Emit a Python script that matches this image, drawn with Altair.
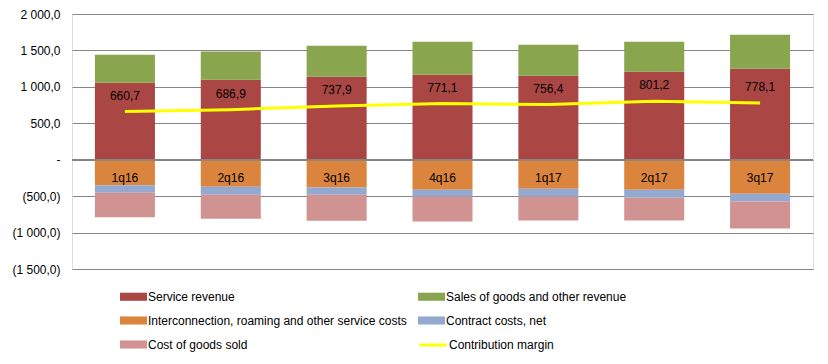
import altair as alt
import pandas as pd

quarters = ["1q16", "2q16", "3q16", "4q16", "1q17", "2q17", "3q17"]
service_revenue = [1057, 1098, 1140, 1167, 1153, 1208, 1249]
sales_goods = [384, 389, 425, 453, 426, 412, 467]
interconnection = [-352, -371, -380, -412, -398, -412, -467]
contract_costs = [-101, -110, -101, -96, -110, -110, -105]
cost_goods = [-338, -329, -356, -339, -325, -311, -371]
contribution_margin = [660.7, 686.9, 737.9, 771.1, 756.4, 801.2, 778.1]

bar_series = [
    "Service revenue",
    "Sales of goods and other revenue",
    "Interconnection, roaming and other service costs",
    "Contract costs, net",
    "Cost of goods sold",
]
bar_colors = ["#AA4643", "#89A54E", "#DB843D", "#93A9CF", "#D19392"]
line_series = ["Contribution margin"]
line_colors = ["#FFFF00"]
y_ticks = [-1500, -1000, -500, 0, 500, 1000, 1500, 2000]

rows = []
for i, q in enumerate(quarters):
    for k, vals in enumerate([service_revenue, sales_goods, interconnection, contract_costs, cost_goods]):
        rows.append({"quarter": q, "series": bar_series[k], "value": vals[i], "ord": k})
bars_df = pd.DataFrame(rows)

line_df = pd.DataFrame({
    "quarter": quarters,
    "series": line_series[0],
    "value": contribution_margin,
    "label": [f"{v:.1f}".replace(".", ",") for v in contribution_margin],
})

FONT = "Liberation Sans"

x_enc = alt.X("quarter:N", sort=quarters, axis=None,
              scale=alt.Scale(paddingInner=0.433, paddingOuter=0.2165))
y_scale = alt.Scale(domain=[-1500, 2000], nice=False, zero=False)

label_expr = (
    "datum.value == 0 ? '-\u2002\u2002' : (datum.value < 0 ? "
    "'(' + replace(replace(format(-datum.value, ',.1f'), ',', ' '), '.', ',') + ')' : "
    "replace(replace(format(datum.value, ',.1f'), ',', ' '), '.', ',') + '\u2008')"
)

bar_legend = alt.Legend(
    title=None, orient="none", legendX=48, legendY=269,
    direction="horizontal", columns=2, columnPadding=11, rowPadding=4,
    labelFont=FONT, labelFontSize=12, labelColor="#000000",
    labelOffset=1, labelLimit=400,
    symbolType="M-1,-0.3H1V0.3H-1Z", symbolSize=729, symbolStrokeWidth=0,
    symbolOpacity=1, padding=0,
)
line_legend = alt.Legend(
    title=None, orient="none", legendX=346, legendY=316,
    labelFont=FONT, labelFontSize=12, labelColor="#000000",
    labelOffset=1, labelLimit=400,
    symbolType="stroke", symbolSize=729, symbolStrokeWidth=3,
    symbolOpacity=1, padding=0,
)

y_axis = alt.Axis(values=y_ticks, tickCount=20, labelOverlap=False,
                  labelExpr=label_expr, grid=True, gridColor="#868686",
                  gridWidth=1, gridOpacity=1, domain=False, ticks=False,
                  labelPadding=12, labelFont=FONT, labelFontSize=12,
                  labelColor="#000000")

bars = alt.Chart(bars_df).mark_bar().encode(
    x=x_enc,
    y=alt.Y("value:Q", scale=y_scale, stack="zero", title=None, axis=y_axis),
    fill=alt.Fill("series:N", scale=alt.Scale(domain=bar_series, range=bar_colors),
                  legend=bar_legend),
    order=alt.Order("ord:Q"),
)

zero_rule = alt.Chart(line_df).mark_rule(color="#868686", strokeWidth=1).encode(
    y=alt.datum(0),
)

quarter_text = alt.Chart(line_df).mark_text(
    font=FONT, fontSize=12, color="#000000", dy=18
).encode(
    x=alt.X("quarter:N", sort=quarters),
    y=alt.datum(0),
    text="quarter:N",
)

line = alt.Chart(line_df).mark_line(strokeWidth=3).encode(
    x=alt.X("quarter:N", sort=quarters),
    y=alt.Y("value:Q"),
    stroke=alt.Stroke("series:N", scale=alt.Scale(domain=line_series, range=line_colors),
                      legend=line_legend),
)

margin_text = alt.Chart(line_df).mark_text(
    font=FONT, fontSize=12, color="#000000", dy=-16
).encode(
    x=alt.X("quarter:N", sort=quarters),
    y=alt.Y("value:Q"),
    text="label:N",
)

chart = alt.layer(bars, zero_rule, quarter_text, line, margin_text).properties(
    width=741,
    height=255,
    autosize=alt.AutoSizeParams(type="none"),
    padding={"left": 64, "top": 6, "right": 7, "bottom": 87},
).configure_view(stroke=None).configure(background="#FFFFFF")

chart.save("out.html", embed_options={"renderer": "svg", "actions": False})
